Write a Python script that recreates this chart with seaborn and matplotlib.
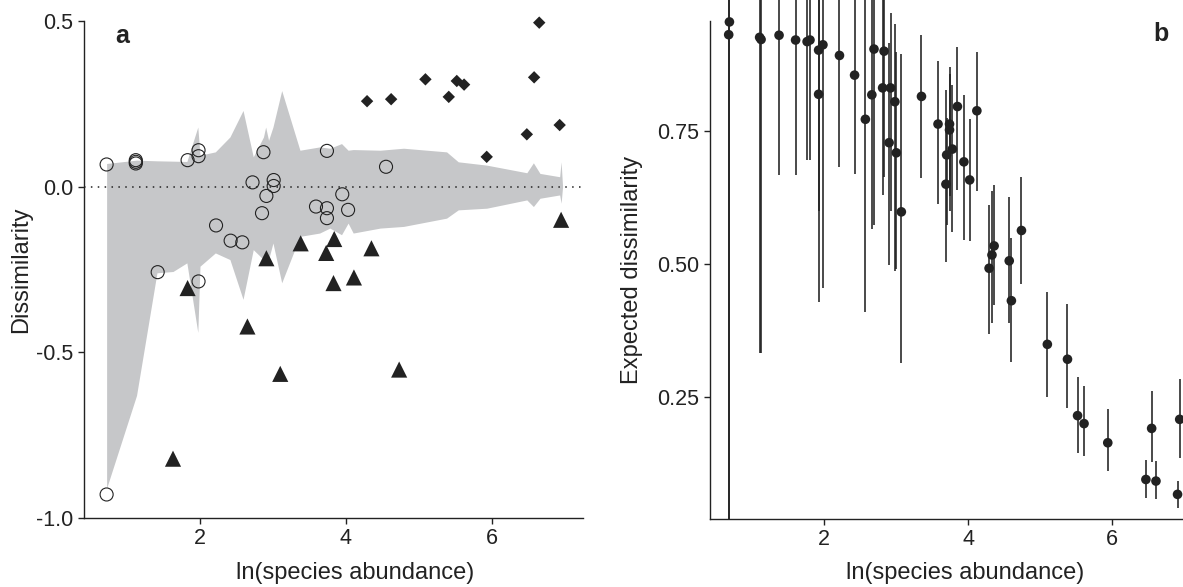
import matplotlib
matplotlib.use("Agg")
import matplotlib.pyplot as plt
import seaborn as sns
import numpy as np
import pandas as pd

# panel a: observed dissimilarity vs ln(abundance)
circ_x = [0.72, 1.12, 1.12, 1.12, 1.83, 1.98, 1.98, 2.87, 2.72, 3.01, 3.01, 2.91,
          2.85, 2.22, 2.42, 2.58, 1.42, 1.98, 0.72, 3.74, 4.55, 3.95, 3.59, 3.74,
          3.74, 4.03]
circ_y = [0.067, 0.080, 0.075, 0.070, 0.080, 0.110, 0.092, 0.104, 0.013, 0.020, 0.002,
          -0.028, -0.080, -0.117, -0.163, -0.168, -0.258, -0.286, -0.929, 0.108, 0.060,
          -0.023, -0.060, -0.065, -0.095, -0.070]
tri_x = [1.63, 1.83, 2.65, 2.91, 3.10, 3.38, 3.73, 3.83, 3.84, 4.11, 4.35, 4.73, 6.95]
tri_y = [-0.821, -0.306, -0.422, -0.216, -0.565, -0.171, -0.200, -0.291, -0.158,
         -0.274, -0.186, -0.552, -0.100]
dia_x = [4.29, 4.62, 5.09, 5.41, 5.52, 5.62, 5.93, 6.48, 6.58, 6.65, 6.93]
dia_y = [0.258, 0.264, 0.324, 0.271, 0.319, 0.308, 0.090, 0.158, 0.330, 0.495, 0.186]

# null envelope (grey band)
band_x = [0.72, 1.13, 1.41, 1.63, 1.82, 1.97, 2.00, 2.21, 2.41, 2.59, 2.73, 2.87,
          2.90, 2.94, 3.00, 3.12, 3.37, 3.64, 3.78, 3.94, 4.03, 4.10, 4.47, 4.79,
          5.38, 5.54, 5.93, 6.48, 6.57, 6.66, 6.93, 6.95, 6.97]
band_hi = [0.070, 0.080, 0.078, 0.077, 0.076, 0.180, 0.095, 0.105, 0.150, 0.230,
           0.090, 0.150, 0.180, 0.140, 0.180, 0.290, 0.110, 0.120, 0.116, 0.130,
           0.110, 0.112, 0.110, 0.116, 0.105, 0.075, 0.065, 0.042, 0.072, 0.040,
           0.030, 0.075, 0.000]
band_lo = [-0.910, -0.630, -0.260, -0.256, -0.230, -0.440, -0.240, -0.200, -0.220,
           -0.340, -0.190, -0.220, -0.230, -0.220, -0.170, -0.290, -0.150, -0.140,
           -0.125, -0.145, -0.110, -0.140, -0.125, -0.120, -0.095, -0.070, -0.065,
           -0.040, -0.060, -0.035, -0.025, -0.050, 0.000]

# panel b: expected dissimilarity with intervals
b_x = [0.67, 0.68, 1.10, 1.12, 1.37, 1.60, 1.76, 1.80, 1.92, 1.92, 1.98, 2.21, 2.42,
       2.57, 2.66, 2.69, 2.81, 2.83, 2.90, 2.92, 2.98, 3.00, 3.07, 3.35, 3.58, 3.69,
       3.70, 3.74, 3.74, 3.78, 3.85, 3.94, 4.02, 4.12, 4.29, 4.33, 4.36, 4.57, 4.60,
       4.74, 5.10, 5.38, 5.52, 5.61, 5.94, 6.47, 6.55, 6.61, 6.91, 6.94]
b_y = [0.931, 0.955, 0.926, 0.922, 0.930, 0.921, 0.918, 0.921, 0.902, 0.819, 0.912,
       0.892, 0.855, 0.772, 0.818, 0.904, 0.831, 0.900, 0.728, 0.831, 0.805, 0.709,
       0.598, 0.815, 0.763, 0.650, 0.705, 0.763, 0.752, 0.716, 0.796, 0.692, 0.658,
       0.788, 0.492, 0.517, 0.534, 0.506, 0.431, 0.563, 0.349, 0.321, 0.215, 0.200,
       0.164, 0.095, 0.191, 0.092, 0.067, 0.208]
b_lo = [0.000, 0.000, 0.333, 0.333, 0.667, 0.667, 0.695, 0.695, 0.600, 0.429, 0.454,
        0.683, 0.669, 0.410, 0.565, 0.573, 0.630, 0.664, 0.498, 0.600, 0.486, 0.490,
        0.313, 0.661, 0.613, 0.503, 0.573, 0.627, 0.600, 0.561, 0.640, 0.545, 0.544,
        0.637, 0.368, 0.390, 0.423, 0.389, 0.316, 0.462, 0.250, 0.229, 0.144, 0.140,
        0.110, 0.061, 0.127, 0.058, 0.041, 0.135]
b_hi = [1.100, 1.100, 1.100, 1.100, 1.100, 1.100, 1.100, 1.100, 1.100, 1.050, 1.100,
        1.100, 1.100, 1.050, 1.050, 1.100, 1.050, 1.100, 0.915, 0.972, 0.952, 0.899,
        0.894, 0.930, 0.882, 0.827, 0.774, 0.858, 0.870, 0.836, 0.908, 0.818, 0.773,
        0.899, 0.611, 0.638, 0.649, 0.625, 0.548, 0.664, 0.448, 0.425, 0.287, 0.271,
        0.227, 0.132, 0.262, 0.130, 0.092, 0.283]

INK = "#222222"
GREY = "#c6c7c9"

sns.set_theme(style="ticks")
plt.rcParams["font.family"] = ["Liberation Sans", "DejaVu Sans"]
plt.rcParams.update({
    "axes.unicode_minus": False,
    "axes.edgecolor": INK, "axes.labelcolor": INK,
    "xtick.color": INK, "ytick.color": INK,
    "xtick.labelsize": 15.5, "ytick.labelsize": 15.5,
    "axes.labelsize": 17, "axes.linewidth": 1.0,
    "xtick.major.size": 4.5, "ytick.major.size": 4.5,
    "xtick.major.width": 1.0, "ytick.major.width": 1.0,
})

W, H = 1183, 587
fig = plt.figure(figsize=(W / 100, H / 100), dpi=100)
ax_a = fig.add_axes([84 / W, 1 - 518 / H, (583 - 84) / W, (518 - 21) / H])
ax_b = fig.add_axes([710 / W, 1 - 519 / H, 492 / W, 519 / H])

# ---- panel a ----
ax_a.fill_between(band_x, band_lo, band_hi, color=GREY, linewidth=0, zorder=1)
ax_a.axhline(0, color=INK, linestyle=(0, (1, 3.5)), linewidth=1.1, zorder=2)

sns.scatterplot(x=circ_x, y=circ_y, ax=ax_a, marker="o", s=88, color=INK,
                linewidth=0.8, edgecolor=INK, zorder=3, clip_on=False)
ax_a.collections[-1].set_facecolor("none")
sns.scatterplot(x=tri_x, y=tri_y, ax=ax_a, marker="^", s=135, color=INK,
                edgecolor="none", zorder=3, clip_on=False)
sns.scatterplot(x=dia_x, y=dia_y, ax=ax_a, marker="D", s=40, color=INK,
                edgecolor="none", zorder=3, clip_on=False)

ax_a.set_xlim(0.41, 7.25)
ax_a.set_ylim(-1.0, 0.5)
ax_a.set_xticks([2, 4, 6])
ax_a.set_yticks([-1.0, -0.5, 0.0, 0.5])
ax_a.set_yticklabels(["-1.0", "-0.5", "0.0", "0.5"])
ax_a.set_xlabel("ln(species abundance)")
ax_a.set_ylabel("Dissimilarity")
ax_a.xaxis.set_label_coords((355 - 84) / (583 - 84), -0.0885)
ax_a.yaxis.set_label_coords(-0.104, 0.5)
ax_a.text(0.077, 0.97, "a", transform=ax_a.transAxes, fontsize=18,
          fontweight="bold", color=INK, ha="center", va="center")

# ---- panel b ----
ax_b.vlines(b_x, b_lo, b_hi, color=INK, linewidth=1.15, zorder=2)
sns.scatterplot(x=b_x, y=b_y, ax=ax_b, marker="o", s=48, color=INK,
                edgecolor="none", zorder=3)

ax_b.set_xlim(0.41, 7.25)
ax_b.set_ylim(0.0207, 0.9962)
ax_b.set_xticks([2, 4, 6])
ax_b.set_yticks([0.25, 0.50, 0.75])
ax_b.set_yticklabels(["0.25", "0.50", "0.75"])
ax_b.spines["left"].set_bounds(0.0207, 0.957)
ax_b.set_xlabel("ln(species abundance)")
ax_b.set_ylabel("Expected dissimilarity")
ax_b.xaxis.set_label_coords((965 - 710) / 492, -0.083)
ax_b.yaxis.set_label_coords(-0.136, 0.48)
fig.text(1161 / W, 1 - 34 / H, "b", fontsize=18, fontweight="bold", color=INK,
         ha="center", va="center")

for ax in (ax_a, ax_b):
    sns.despine(ax=ax)
    ax.tick_params(pad=3)

fig.savefig("out.png", dpi=100)
